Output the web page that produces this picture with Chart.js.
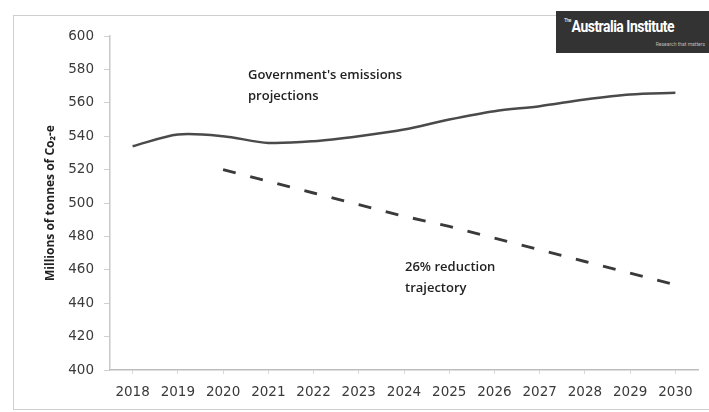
<!DOCTYPE html>
<html>
<head>
<meta charset="utf-8">
<script src="https://cdn.jsdelivr.net/npm/chart.js@4.4.1/dist/chart.umd.min.js"></script>
<style>
  html,body{margin:0;padding:0;background:#fff}
  #wrap{position:relative;width:709px;height:412px;overflow:hidden}
  #frame{position:absolute;left:13px;top:15px;width:700px;height:395px;border:1px solid #cfcfcf;box-sizing:border-box}
  #logo{position:absolute;left:556px;top:11px;width:153px;height:42px;background:#333;color:#fff;font-family:Roboto,"Liberation Sans",sans-serif}
  #logo .main{position:absolute;left:8px;top:5px;font-weight:700;font-size:17px;letter-spacing:-0.6px;transform:scaleX(0.82);transform-origin:left top;white-space:nowrap}
  #logo .main sup{font-size:6px;font-weight:400;vertical-align:top;margin-right:1px}
  #logo .sub{position:absolute;right:4px;top:30px;font-size:5px;color:#bbb;white-space:nowrap}
  canvas{position:absolute;left:0;top:0}
</style>
</head>
<body>
<div id="wrap">
  <div id="frame"></div>
  <canvas id="c" width="709" height="412"></canvas>
  <div id="logo"><div class="main"><sup>The</sup>Australia Institute</div><div class="sub">Research that matters</div></div>
</div>
<script>
// years on the x axis
const years = ['2018','2019','2020','2021','2022','2023','2024','2025','2026','2027','2028','2029','2030'];
// government projections, Mt CO2-e
const govProjection = [534, 541, 540, 536, 537, 540, 544, 550, 555, 558, 562, 565, 566];
// 26% reduction path, starting 2020
const reductionPath = [null, null, 520, 513, 506, 499, 492, 486, 479, 472, 465, 458, 451];
// y axis range
const yMin = 400, yMax = 600, yStep = 20;

const tickFont = {family: '"DejaVu Sans", sans-serif', size: 13.5};

// text notes placed beside the two lines
const notes = {
  id: 'notes',
  afterDatasetsDraw(chart) {
    const ctx = chart.ctx;
    ctx.save();
    ctx.fillStyle = '#222';
    ctx.font = '600 13px "Open Sans", sans-serif';
    ctx.textBaseline = 'middle';
    ctx.fillText("Government's emissions", 248, 75);
    ctx.fillText('projections', 248, 96);
    ctx.fillText('26% reduction', 405, 267);
    ctx.fillText('trajectory', 405, 288);
    ctx.restore();
  }
};

new Chart(document.getElementById('c'), {
  type: 'line',
  data: {
    labels: years,
    datasets: [
      {
        label: "Government's emissions projections",
        data: govProjection,
        borderColor: '#4a4a4a',
        borderWidth: 2.5,
        tension: 0.3,
        pointRadius: 0
      },
      {
        label: '26% reduction trajectory',
        data: reductionPath,
        borderColor: '#3a3a3a',
        borderWidth: 3,
        borderDash: [13, 15],
        pointRadius: 0,
        spanGaps: false
      }
    ]
  },
  options: {
    responsive: false,
    animation: false,
    layout: {padding: {left: 38, top: 36, right: 11, bottom: 0}},
    plugins: {legend: {display: false}, tooltip: {enabled: false}},
    scales: {
      x: {
        offset: true,
        grid: {display: true, drawOnChartArea: false, tickLength: 4, color: '#d8d8d8'},
        border: {color: '#bdbdbd', width: 1.5},
        ticks: {color: '#3a3a3a', font: tickFont, padding: 10, maxRotation: 0, autoSkip: false},
        afterFit: s => { s.height = 42; }
      },
      y: {
        min: yMin,
        max: yMax,
        grid: {display: true, drawOnChartArea: false, tickLength: 6, color: '#d0d0d0'},
        border: {color: '#c8c8c8', width: 1.5},
        ticks: {stepSize: yStep, color: '#3a3a3a', font: tickFont, padding: 10},
        title: {
          display: true,
          text: 'Millions of tonnes of Co\u2082-e',
          color: '#222',
          font: {family: '"Open Sans", sans-serif', size: 12, weight: '700'},
          padding: {top: 5, bottom: 0}
        },
        afterFit: s => { s.width = 72; }
      }
    }
  },
  plugins: [notes]
});
</script>
</body>
</html>
